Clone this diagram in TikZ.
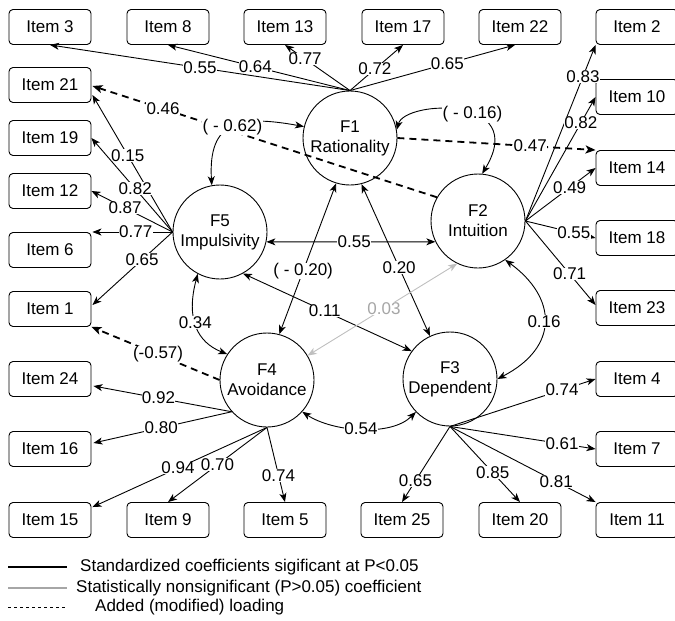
\documentclass[tikz,border=0pt]{standalone}
\usepackage{fontspec}
\setmainfont{Liberation Sans}
\usetikzlibrary{arrows.meta,calc}
\begin{document}
\begin{tikzpicture}[x=1pt,y=-1pt,
  every node/.style={font=\fontsize{17}{20}\selectfont},
  item/.style={draw, rounded corners=4pt, minimum width=82pt, minimum height=35pt, inner sep=0pt, line width=0.9pt},
  fac/.style={draw, circle, minimum size=94pt, inner sep=0pt, align=center, line width=0.9pt},
  ln/.style={line width=0.9pt, -{Stealth[length=9pt,width=7pt,inset=2.5pt]}},
  dbl/.style={line width=0.9pt, {Stealth[length=9pt,width=7pt,inset=2.5pt]}-{Stealth[length=9pt,width=7pt,inset=2.5pt]}},
  dsh/.style={line width=1.8pt, dash pattern=on 7pt off 5pt, -{Stealth[length=10pt,width=8pt,inset=2.5pt]}},
  lbl/.style={fill=white, inner sep=0.3pt},
  legtxt/.style={anchor=west, inner sep=0pt},
]
\useasboundingbox (0,0) rectangle (675,621);
% items
\node[item] (i3) at (50,27) {Item 3};
\node[item] (i8) at (168,27) {Item 8};
\node[item] (i13) at (285,27) {Item 13};
\node[item] (i17) at (403,27) {Item 17};
\node[item] (i22) at (520,27) {Item 22};
\node[item] (i2) at (637,27) {Item 2};
\node[item] (i10) at (637,97) {Item 10};
\node[item] (i14) at (637,168) {Item 14};
\node[item] (i18) at (637,238) {Item 18};
\node[item] (i23) at (637,308) {Item 23};
\node[item] (i4) at (637,379) {Item 4};
\node[item] (i7) at (637,449) {Item 7};
\node[item] (i11) at (637,520) {Item 11};
\node[item] (i20) at (520,520) {Item 20};
\node[item] (i25) at (402,520) {Item 25};
\node[item] (i5) at (285,520) {Item 5};
\node[item] (i9) at (168,520) {Item 9};
\node[item] (i15) at (50,520) {Item 15};
\node[item] (i16) at (50,449) {Item 16};
\node[item] (i24) at (50,379) {Item 24};
\node[item] (i1) at (50,309) {Item 1};
\node[item] (i6) at (50,250) {Item 6};
\node[item] (i12) at (50,191) {Item 12};
\node[item] (i19) at (50,138) {Item 19};
\node[item] (i21) at (50,85) {Item 21};
% factors
\node[fac] (F1) at (350,138) {F1\\Rationality};
\node[fac] (F2) at (478,221) {F2\\Intuition};
\node[fac] (F5) at (220,232) {F5\\Impulsivity};
\node[fac] (F4) at (267,380) {F4\\Avoidance};
\node[fac] (F3) at (450,379) {F3\\Dependent};
% dashed (added) loadings
\draw[dsh] (F2.150) -- node[lbl,pos=0.795]{0.46} ($(i21.east)+(1,1)$);
\draw[dsh] (F1.east) -- node[lbl,pos=0.67]{0.47} (i14.north west);
\draw[dsh] (F4.west) -- node[lbl,pos=0.48]{(-0.57)} (i1.south east);
% F1 loadings
\draw[ln] (F1.north) -- node[lbl,pos=0.5]{0.55} (i3.south);
\draw[ln] (F1.north) -- node[lbl,pos=0.52]{0.64} (i8.south);
\draw[ln] (F1.north) -- node[lbl,pos=0.69]{0.77} (i13.south);
\draw[ln] (F1.north) -- node[lbl,pos=0.47]{0.72} (i17.south);
\draw[ln] (F1.north) -- node[lbl,pos=0.59]{0.65} ($(i22.south)+(-5,0)$);
% F2 loadings
\draw[ln] (F2.east) -- node[lbl,pos=0.82]{0.83} (i2.south west);
\draw[ln] (F2.east) -- node[lbl,pos=0.79]{0.82} (i10.west);
\draw[ln] (F2.east) -- node[lbl,pos=0.63]{0.49} (i14.west);
\draw[ln] (F2.east) -- node[lbl,pos=0.69]{0.55} (i18.west);
\draw[ln] (F2.east) -- node[lbl,pos=0.63]{0.71} ($(i23.west)+(0,-3)$);
% F5 loadings
\draw[ln] (F5.west) -- node[lbl,pos=0.56]{0.15} ($(i21.east)+(1,10)$);
\draw[ln] (F5.west) -- node[lbl,pos=0.46]{0.82} (i19.east);
\draw[ln] (F5.west) -- node[lbl,pos=0.585]{0.87} (i12.east);
\draw[ln] (F5.west) -- node[lbl,pos=0.46]{0.77} ($(i6.east)+(1,-18)$);
\draw[ln] (F5.west) -- node[lbl,pos=0.38]{0.65} ($(i1.east)+(1,-4)$);
% F4 loadings
\draw[ln] (F4.222) -- node[lbl,pos=0.53]{0.92} ($(i24.east)+(2,7)$);
\draw[ln] (F4.222) -- node[lbl,pos=0.51]{0.80} ($(i16.east)+(2,-6)$);
\draw[ln] (F4.south) -- node[lbl,pos=0.51]{0.94} ($(i15.north east)+(1,5)$);
\draw[ln] (F4.south) -- node[lbl,pos=0.5]{0.70} (i9.north);
\draw[ln] (F4.south) -- node[lbl,pos=0.64]{0.74} (i5.north);
% F3 loadings
\draw[ln] (F3.south) -- node[lbl,pos=0.77]{0.74} (i4.west);
\draw[ln] (F3.south) -- node[lbl,pos=0.77]{0.61} (i7.west);
\draw[ln] (F3.south) -- node[lbl,pos=0.73]{0.81} (i11.north west);
\draw[ln] (F3.south) -- node[lbl,pos=0.61]{0.85} (i20.north);
\draw[ln] (F3.south) -- node[lbl,pos=0.72]{0.65} (i25.north);
% factor correlations
\draw[dbl] (F5.-12) -- node[lbl,pos=0.52]{0.55} (F2.206);
\draw[dbl] (F1.253) -- node[lbl,pos=0.58]{( - 0.20)} (F4.75);
\draw[dbl] (F1.-76) -- node[lbl,pos=0.55]{0.20} (F3.115);
\draw[dbl] (F5.-61) -- node[lbl,pos=0.485]{0.11} (F3.144);
\draw[dbl,black!25] (F4.31) -- node[lbl,pos=0.51,text=black!35]{0.03} (F2.244);
\draw[dbl] (F5.242) .. controls +(-12,45) and +(-30,-12) .. node[lbl,pos=0.45]{0.34} (F4.147);
\draw[dbl] (F4.-42) .. controls +(30,20) and +(-25,25) .. node[lbl,pos=0.5]{0.54} (F3.224);
\draw[dbl] (F2.-55) .. controls +(52,38) and +(62,-32) .. node[lbl,pos=0.5]{0.16} (F3.east);
\draw[dbl] (F1.10) .. controls (405,100) and (530,95) .. node[lbl,pos=0.58]{( - 0.16)} (F2.85);
\draw[dbl] (F5.100) .. controls (208,120) and (240,115) .. node[lbl,pos=0.5]{( - 0.62)} (F1.166);
% legend
\coordinate (l1a) at (8,567); \coordinate (l1b) at (67,567);
\coordinate (l2a) at (8,588); \coordinate (l2b) at (67,588);
\coordinate (l3a) at (8,607); \coordinate (l3b) at (67,607);
\draw[line width=2pt] (l1a) -- (l1b);
\draw[line width=2pt, black!35] (l2a) -- (l2b);
\draw[line width=0.9pt, dash pattern=on 3pt off 3pt] (l3a) -- (l3b);
\node[legtxt] (t1) at (80,567) {Standardized coefficients sigificant at P<0.05};
\node[legtxt] (t2) at (76,588) {Statistically nonsignificant (P>0.05) coefficient};
\node[legtxt] (t3) at (95,607) {Added (modified) loading};
\end{tikzpicture}
\end{document}
